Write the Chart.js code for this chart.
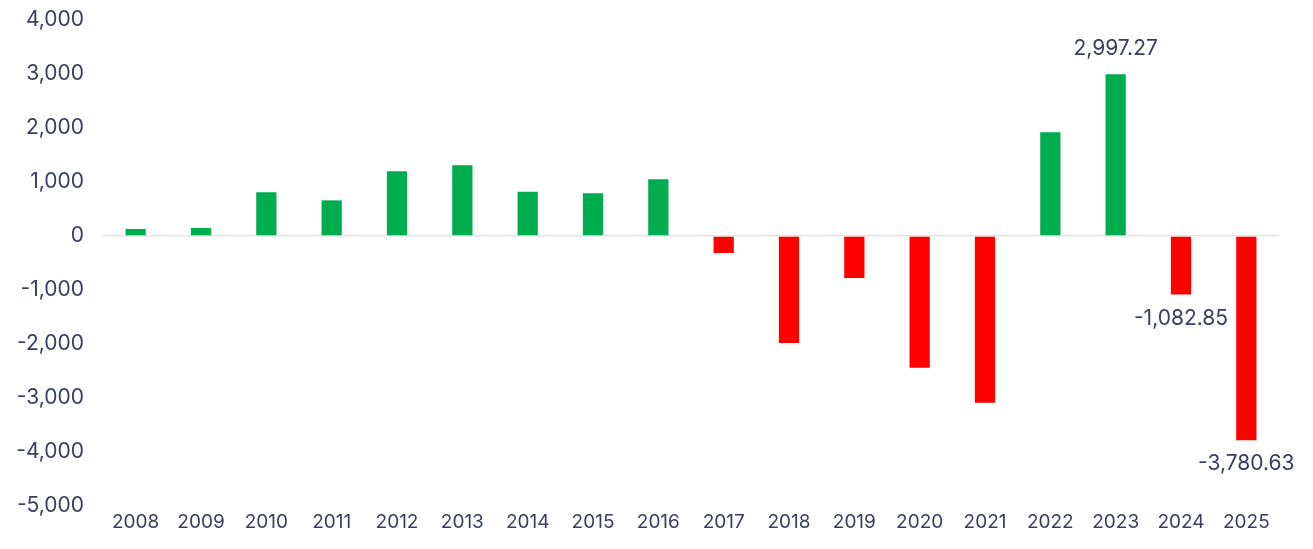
<!DOCTYPE html>
<html>
<head>
<meta charset="utf-8">
<script src="https://cdn.jsdelivr.net/npm/chart.js@4/dist/chart.umd.min.js"></script>
<style>
  html, body { margin: 0; padding: 0; background: #ffffff; }
  #wrap { width: 1313px; height: 549px; position: relative; }
</style>
</head>
<body>
<div id="wrap"><canvas id="chart"></canvas></div>
<script>
// Annual net values, 2008–2025
const years = ['2008','2009','2010','2011','2012','2013','2014','2015','2016',
               '2017','2018','2019','2020','2021','2022','2023','2024','2025'];
const values = [130, 150, 810, 660, 1200, 1310, 820, 790, 1050,
                -315, -1980, -780, -2440, -3090, 1920, 2997.27, -1082.85, -3780.63];
// Years whose value is printed next to the bar
const labelledYears = ['2023', '2024', '2025'];
const yTicks = { min: -5000, max: 4000, step: 1000 };

const GREEN = '#00ad4e';
const RED = '#ff0000';
const TEXT = '#363f5e';
const FONT = 'Inter, "Noto Sans", sans-serif';

const fmtTick = v => v.toLocaleString('en-US');
const fmtValue = v => v.toLocaleString('en-US', { minimumFractionDigits: 2, maximumFractionDigits: 2 });

// Draws the value text above positive bars and below negative ones
const valueLabels = {
  id: 'valueLabels',
  afterDatasetsDraw(chart) {
    const ctx = chart.ctx;
    const meta = chart.getDatasetMeta(0);
    ctx.save();
    ctx.font = '21px ' + FONT;
    ctx.fillStyle = TEXT;
    ctx.textAlign = 'center';
    ctx.textBaseline = 'middle';
    meta.data.forEach((bar, i) => {
      if (!labelledYears.includes(years[i])) return;
      const v = values[i];
      const y = v >= 0 ? bar.y - 25 : bar.y + 24;
      ctx.fillText(fmtValue(v), bar.x, y);
    });
    ctx.restore();
  }
};

new Chart(document.getElementById('chart'), {
  type: 'bar',
  data: {
    labels: years,
    datasets: [{
      data: values,
      backgroundColor: values.map(v => v >= 0 ? GREEN : RED),
      borderWidth: 0,
      barPercentage: 0.31,
      categoryPercentage: 1.0
    }]
  },
  options: {
    responsive: true,
    maintainAspectRatio: false,
    animation: false,
    layout: { padding: { top: 20, right: 34, bottom: 11, left: 0 } },
    plugins: {
      legend: { display: false },
      tooltip: { enabled: false }
    },
    scales: {
      x: {
        grid: { display: false, drawTicks: false },
        border: { display: false },
        ticks: {
          color: TEXT,
          font: { family: FONT, size: 19 },
          padding: 5,
          maxRotation: 0,
          autoSkip: false
        },
        afterFit: s => { s.height = 32; }
      },
      y: {
        min: yTicks.min,
        max: yTicks.max,
        border: { display: false },
        grid: {
          drawTicks: false,
          color: c => c.tick && c.tick.value === 0 ? '#e3e3e3' : 'rgba(0,0,0,0)',
          lineWidth: 1.5
        },
        ticks: {
          stepSize: yTicks.step,
          color: TEXT,
          font: { family: FONT, size: 21 },
          padding: 19,
          callback: v => fmtTick(v)
        },
        afterFit: s => { s.width = 103; s.paddingTop = 0; s.paddingBottom = 0; }
      }
    }
  },
  plugins: [valueLabels]
});
</script>
</body>
</html>
